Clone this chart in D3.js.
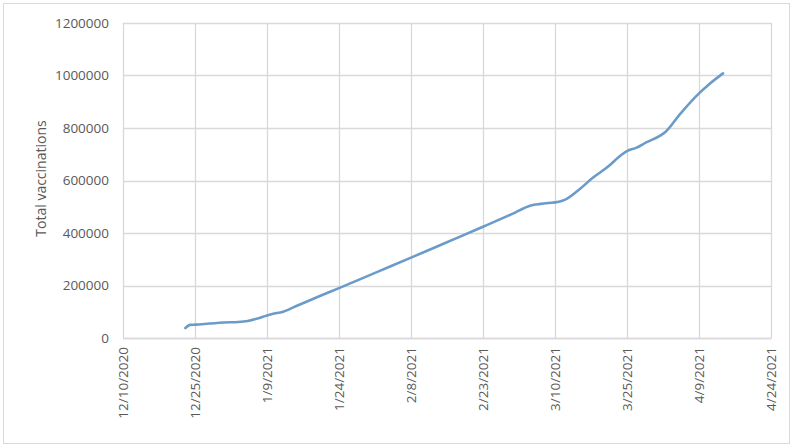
<!DOCTYPE html>
<html>
<head>
<meta charset="utf-8">
<script src="https://cdn.jsdelivr.net/npm/d3@7"></script>
<style>
  body { margin: 0; background: #fff; }
  svg text { font-family: "Open Sans", sans-serif; fill: #595959; }
</style>
</head>
<body>
<svg width="794" height="447"></svg>
<script>
// data
const dates = [
  "2020-12-23", "2020-12-24", "2020-12-25", "2020-12-28", "2020-12-31",
  "2021-01-03", "2021-01-05", "2021-01-07", "2021-01-09", "2021-01-11",
  "2021-01-12", "2021-01-15", "2021-01-20", "2021-01-24", "2021-02-01",
  "2021-02-08", "2021-02-15", "2021-02-23", "2021-03-01", "2021-03-05",
  "2021-03-07", "2021-03-11", "2021-03-12", "2021-03-15", "2021-03-18",
  "2021-03-21", "2021-03-24", "2021-03-25", "2021-03-27", "2021-03-29",
  "2021-04-01", "2021-04-02", "2021-04-05", "2021-04-09", "2021-04-11",
  "2021-04-14"
];
const totals = [
  38000, 50000, 51000, 55000, 59000,
  61000, 65000, 74000, 86000, 95000,
  98000, 121000, 160000, 190000, 252000,
  306000, 361000, 424000, 472000, 505000,
  511000, 520000, 526000, 565000, 612000,
  652000, 700000, 712000, 725000, 745000,
  772000, 785000, 852000, 932000, 965000,
  1008000
];
const xTicks = [
  "2020-12-10", "2020-12-25", "2021-01-09", "2021-01-24", "2021-02-08",
  "2021-02-23", "2021-03-10", "2021-03-25", "2021-04-09", "2021-04-24"
];
const yTicks = [0, 200000, 400000, 600000, 800000, 1000000, 1200000];

const parse = d3.utcParse("%Y-%m-%d");
const fmt = d3.utcFormat("%-m/%-d/%Y");
const data = dates.map((d, i) => ({ date: parse(d), value: totals[i] }));

const svg = d3.select("svg");
const margin = { top: 23, right: 23, bottom: 109, left: 123 };
const width = 794 - margin.left - margin.right;
const height = 447 - margin.top - margin.bottom;

// outer chart border
svg.append("rect")
  .attr("x", 3.5).attr("y", 3.5)
  .attr("width", 786).attr("height", 440)
  .attr("fill", "none")
  .attr("stroke", "#d9d9d9");

const g = svg.append("g").attr("transform", `translate(${margin.left},${margin.top})`);

const x = d3.scaleUtc()
  .domain([parse(xTicks[0]), parse(xTicks[xTicks.length - 1])])
  .range([0, width]);
const y = d3.scaleLinear().domain([0, 1200000]).range([height, 0]);

// gridlines
g.append("g")
  .selectAll("line.v")
  .data(xTicks.map(parse))
  .join("line")
  .attr("x1", (d) => Math.round(x(d)) + 0.5)
  .attr("x2", (d) => Math.round(x(d)) + 0.5)
  .attr("y1", 0).attr("y2", height)
  .attr("stroke", "#d9d9d9")
  .attr("stroke-width", 1.3);

g.append("g")
  .selectAll("line.h")
  .data(yTicks)
  .join("line")
  .attr("x1", 0).attr("x2", width)
  .attr("y1", (d) => Math.round(y(d)) + 0.5)
  .attr("y2", (d) => Math.round(y(d)) + 0.5)
  .attr("stroke", "#d9d9d9")
  .attr("stroke-width", 1.3);

// y axis labels
const yAxis = g.append("g")
  .call(d3.axisLeft(y).tickValues(yTicks).tickFormat(d3.format("d")).tickSize(0).tickPadding(14));
yAxis.select(".domain").remove();
yAxis.selectAll("text")
  .style("font-size", "13.5px")
  .attr("fill", "#595959");

// x axis labels, rotated
const xAxis = g.append("g")
  .attr("transform", `translate(0,${height})`)
  .call(d3.axisBottom(x).tickValues(xTicks.map(parse)).tickFormat(fmt).tickSize(0));
xAxis.select(".domain").attr("stroke", "#d9d9d9").attr("stroke-width", 1.5);
xAxis.selectAll("text")
  .style("font-size", "13.5px")
  .attr("fill", "#595959")
  .attr("text-anchor", "end")
  .attr("transform", "rotate(-90)")
  .attr("x", -9)
  .attr("y", 0)
  .attr("dy", "0.35em");

// y axis title
svg.append("text")
  .attr("transform", `translate(46,${margin.top + height / 2 - 2}) rotate(-90)`)
  .attr("text-anchor", "middle")
  .style("font-size", "14px")
  .text("Total vaccinations");

// line
const line = d3.line()
  .x((d) => x(d.date))
  .y((d) => y(d.value))
  .curve(d3.curveMonotoneX);

g.append("path")
  .datum(data)
  .attr("fill", "none")
  .attr("stroke", "#6b9bc9")
  .attr("stroke-width", 2.6)
  .attr("stroke-linecap", "round")
  .attr("d", line);
</script>
</body>
</html>
